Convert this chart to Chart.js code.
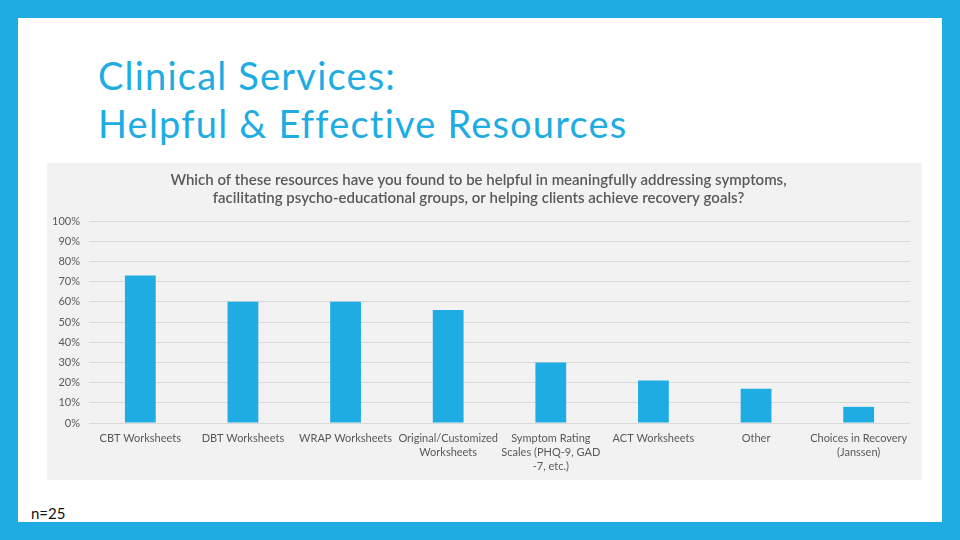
<!DOCTYPE html>
<html>
<head>
<meta charset="utf-8">
<script src="https://cdn.jsdelivr.net/npm/chart.js@4.4.1/dist/chart.umd.min.js"></script>
<style>
  html, body { margin: 0; padding: 0; }
  body { width: 960px; height: 540px; background: #1EACE2; position: relative; overflow: hidden; font-family: Lato, "Open Sans", sans-serif; }
  #slide { position: absolute; left: 18px; top: 18px; width: 924px; height: 504px; background: #FFFFFF; }
  #title { position: absolute; left: 98px; top: 51px; font-size: 38px; line-height: 48px; letter-spacing: 1.2px; font-weight: 400; font-variant-ligatures: none; color: #1EACE2; white-space: nowrap; }
  #box { position: absolute; left: 47px; top: 163px; width: 875px; height: 317px; background: #F2F2F2; }
  #n { position: absolute; left: 31px; top: 503px; font-size: 15px; line-height: 20px; color: #111; }
</style>
</head>
<body>
<div id="slide"></div>
<div id="title">Clinical Services:<br>Helpful &amp; Effective Resources</div>
<div id="box"><canvas id="c" width="875" height="317"></canvas></div>
<div id="n">n=25</div>
<script>
const categories = [
  "CBT Worksheets",
  "DBT Worksheets",
  "WRAP Worksheets",
  ["Original/Customized", "Worksheets"],
  ["Symptom Rating", "Scales (PHQ-9, GAD", "-7, etc.)"],
  "ACT Worksheets",
  "Other",
  ["Choices in Recovery", "(Janssen)"]
];
const percentHelpful = [73, 60, 60, 56, 30, 21, 17, 8];
const yTicks = [0, 10, 20, 30, 40, 50, 60, 70, 80, 90, 100];
const chartTitle = [
  "Which of these resources have you found to be helpful in meaningfully addressing symptoms,",
  "facilitating psycho-educational groups, or helping clients achieve recovery goals?"
];

const blue = "#1EACE2";
const textGrey = "#595959";

new Chart(document.getElementById("c"), {
  type: "bar",
  data: {
    labels: categories,
    datasets: [{
      data: percentHelpful,
      backgroundColor: blue,
      borderWidth: 0,
      categoryPercentage: 0.5,
      barPercentage: 0.6
    }]
  },
  options: {
    responsive: false,
    animation: false,
    layout: { padding: { left: 0, right: 12, top: 0, bottom: 0 } },
    plugins: {
      legend: { display: false },
      tooltip: { enabled: false },
      title: {
        display: true,
        text: chartTitle,
        color: textGrey,
        font: { family: "Lato, 'Open Sans', sans-serif", size: 15, weight: "600", lineHeight: 1.2 },
        padding: { top: 8, bottom: 14 }
      }
    },
    scales: {
      x: {
        grid: { display: false, drawTicks: false },
        border: { display: false },
        ticks: {
          color: textGrey,
          font: { family: "Lato, 'Open Sans', sans-serif", size: 11, lineHeight: 1.3 },
          maxRotation: 0,
          autoSkip: false,
          padding: 8
        },
        afterFit: (s) => { s.height = 57; }
      },
      y: {
        min: 0,
        max: 100,
        afterBuildTicks: (s) => { s.ticks = yTicks.map(v => ({ value: v })); },
        grid: { color: "#D9D9D9", lineWidth: 1, drawTicks: false },
        border: { display: false },
        ticks: {
          color: textGrey,
          font: { family: "Lato, 'Open Sans', sans-serif", size: 11 },
          padding: 9,
          callback: (v) => v + "%"
        },
        afterFit: (s) => { s.width = 42; }
      }
    }
  }
});
</script>
</body>
</html>
